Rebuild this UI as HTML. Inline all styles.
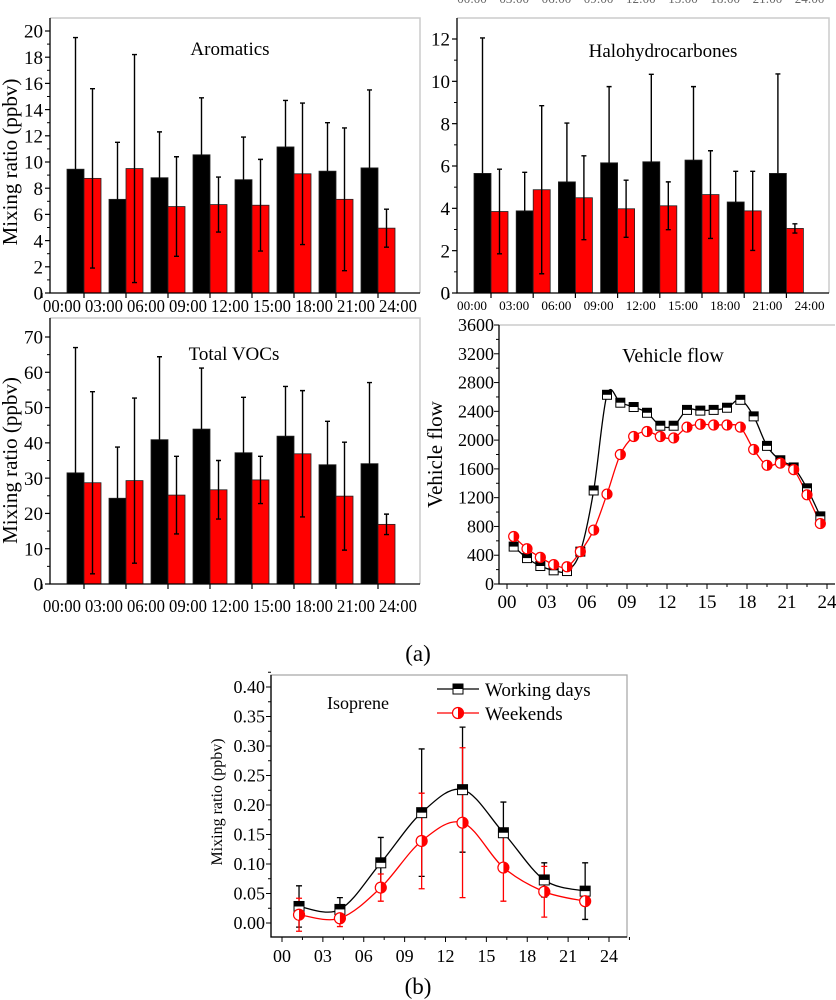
<!DOCTYPE html>
<html><head><meta charset="utf-8">
<style>
html,body{margin:0;padding:0;background:#fff;}
svg{display:block;font-family:"Liberation Serif",serif;}
</style></head>
<body>
<svg id="fig" width="836" height="1000" viewBox="0 0 836 1000" xmlns="http://www.w3.org/2000/svg"></svg>
<script>
// ---------- data ----------
const barCats = ["00:00","03:00","06:00","09:00","12:00","15:00","18:00","21:00","24:00"];
const aroWork = [9.45,7.15,8.8,10.55,8.65,11.15,9.3,9.55];
const aroWorkErr = [10.05,4.35,3.5,4.35,3.25,3.55,3.7,5.95];
const aroWeek = [8.75,9.5,6.6,6.75,6.7,9.1,7.15,4.95];
const aroWeekErr = [6.85,8.7,3.8,2.1,3.5,5.4,5.45,1.45];
const haloWork = [5.65,3.88,5.25,6.15,6.2,6.28,4.3,5.65];
const haloWorkErr = [6.4,1.82,2.78,3.6,4.13,3.47,1.45,4.7];
const haloWeek = [3.85,4.88,4.5,3.98,4.12,4.65,3.88,3.05];
const haloWeekErr = [2.0,3.97,1.98,1.35,1.13,2.07,1.87,0.22];
const vocWork = [31.5,24.3,40.9,43.9,37.2,41.9,33.8,34.1];
const vocWorkErr = [35.5,14.5,23.5,17.3,15.7,14.1,12.3,23.0];
const vocWeek = [28.7,29.3,25.2,26.7,29.5,36.9,24.9,16.9];
const vocWeekErr = [25.8,23.4,11,8.3,6.7,17.9,15.3,2.9];
const vehHours = [0.5,1.5,2.5,3.5,4.5,5.5,6.5,7.5,8.5,9.5,10.5,11.5,12.5,13.5,14.5,15.5,16.5,17.5,18.5,19.5,20.5,21.5,22.5,23.5];
const vehWork = [520,360,250,190,180,450,1300,2630,2520,2460,2380,2200,2200,2420,2410,2420,2450,2560,2330,1920,1720,1620,1330,940];
const vehWeek = [660,490,370,270,240,450,750,1250,1800,2050,2120,2050,2030,2180,2220,2210,2210,2180,1870,1650,1680,1590,1240,840];
const isoHours = [1.25,4.25,7.25,10.25,13.25,16.25,19.25,22.25];
const isoWork = [0.028,0.023,0.102,0.187,0.226,0.153,0.073,0.054];
const isoWorkErr = [0.035,0.02,0.043,0.108,0.106,0.052,0.029,0.048];
const isoWeek = [0.014,0.008,0.060,0.139,0.170,0.094,0.053,0.037];
const isoWeekErr = [0.028,0.014,0.023,0.081,0.127,0.057,0.043,0.005];
const hourTicks = ["00","03","06","09","12","15","18","21","24"];

const NS="http://www.w3.org/2000/svg";
const svg=document.getElementById('fig');
function el(tag,attrs,parent,txt){const e=document.createElementNS(NS,tag);for(const k in attrs)e.setAttribute(k,attrs[k]);if(txt!==undefined)e.textContent=txt;(parent||svg).appendChild(e);return e;}

function spline(pts){
  let d="M"+pts[0][0]+","+pts[0][1];
  for(let i=0;i<pts.length-1;i++){
    const p0=pts[i-1]||pts[i],p1=pts[i],p2=pts[i+1],p3=pts[i+2]||pts[i+1];
    const c1=[p1[0]+(p2[0]-p0[0])/6,p1[1]+(p2[1]-p0[1])/6];
    const c2=[p2[0]-(p3[0]-p1[0])/6,p2[1]-(p3[1]-p1[1])/6];
    d+=" C"+c1+" "+c2+" "+p2;
  }
  return d;
}

function barPanel(o){
  const g=el('g',{});
  
  
  const y=v=>o.y0-(v/o.ymax)*(o.y0-o.ytop);
  el('path',{d:`M${o.x0},${o.frameTop} H${o.xr} V${o.y0}`,fill:'none',stroke:'#ccc','stroke-width':1.5},g);
  const yt=el('text',{x:o.titleX,y:o.titleY,'font-size':19,'text-anchor':'middle'},g,o.title);
  
  
  for(let i=0;i<o.work.length;i++){
    const xb=o.barX+o.step*i;
    const b1=el('rect',{x:xb,y:y(o.work[i]),width:o.bw,height:o.y0-y(o.work[i]),fill:'#000',stroke:'#222','stroke-width':0.8},g);
    
    
    const b2=el('rect',{x:xb+o.bw,y:y(o.week[i]),width:o.bw,height:o.y0-y(o.week[i]),fill:'#f00',stroke:'#222','stroke-width':0.8},g);
    
    
    const cx1=xb+o.bw/2, t1=y(o.work[i]+o.workErr[i]);
    el('path',{d:`M${cx1},${y(o.work[i])} V${t1} M${cx1-2.5},${t1} H${cx1+2.5}`,stroke:'#000','stroke-width':1.4},g);
    const cx2=xb+o.bw*1.5, t2=y(o.week[i]+o.weekErr[i]), b2y=y(Math.max(0,o.week[i]-o.weekErr[i]));
    el('path',{d:`M${cx2},${b2y} V${t2} M${cx2-2.5},${t2} H${cx2+2.5} M${cx2-2.5},${b2y} H${cx2+2.5}`,stroke:'#000','stroke-width':1.4},g);
  }
  el('path',{d:`M${o.x0},${o.frameTop} V${o.y0} H${o.xr}`,fill:'none',stroke:'#000','stroke-width':1.3},g);
  for(let v=0;v<=o.ymax+1e-9;v+=o.ystep){
    el('line',{x1:o.x0-5,x2:o.x0,y1:y(v),y2:y(v),stroke:'#000','stroke-width':1.2},g);
    const t=el('text',{x:o.x0-7,y:y(v)+o.fs*0.35,'font-size':o.fs,'text-anchor':'end'},g,String(v));
    
    
    if(v+o.ystep/2<=o.ymax) el('line',{x1:o.x0-3,x2:o.x0,y1:y(v+o.ystep/2),y2:y(v+o.ystep/2),stroke:'#000','stroke-width':1},g);
  }
  for(let i=0;i<barCats.length;i++){
    const tx=o.barX+o.bw+o.step*(i-1);
    el('line',{x1:tx,x2:tx,y1:o.y0,y2:o.y0+5,stroke:'#000','stroke-width':1.2},g);
    const lx=o.labX+o.step*i;
    const t=el('text',{x:lx-o.tl/2,y:o.labY,'font-size':o.xfs,textLength:o.tl,lengthAdjust:'spacingAndGlyphs'},g,barCats[i]);
    
    
  }
  if(o.ytitle){
    const t=el('text',{transform:`translate(${o.ytx},${(o.ytop+o.y0)/2}) rotate(-90)`,'font-size':21,'text-anchor':'middle'},g,o.ytitle);
    
    
  }
}

for(let i=0;i<barCats.length;i++){
  const t=el('text',{x:472+42.2*i,y:3,'font-size':13,'text-anchor':'middle',fill:'#666'},svg,barCats[i]);
  
  
}

barPanel({name:'aromatics-chart',title:'Aromatics',titleX:230,titleY:55,x0:50,xr:420,frameTop:18,ytop:31,y0:293,ymax:20,ystep:2,
  work:aroWork,workErr:aroWorkErr,week:aroWeek,weekErr:aroWeekErr,barX:67,bw:17,step:42,labX:62,labY:312,fs:19,xfs:18,tl:38,ytitle:'Mixing ratio (ppbv)',ytx:17});
barPanel({name:'halohydrocarbones-chart',title:'Halohydrocarbones',titleX:663,titleY:57,x0:457,xr:829,frameTop:18,ytop:39,y0:293,ymax:12,ystep:2,
  work:haloWork,workErr:haloWorkErr,week:haloWeek,weekErr:haloWeekErr,barX:474,bw:17,step:42.2,labX:472,labY:310,fs:19,xfs:13,tl:30,});
barPanel({name:'total-vocs-chart',title:'Total VOCs',titleX:234,titleY:360,x0:50,xr:420,frameTop:318,ytop:337,y0:584,ymax:70,ystep:10,
  work:vocWork,workErr:vocWorkErr,week:vocWeek,weekErr:vocWeekErr,barX:67,bw:17,step:42,labX:62,labY:612,fs:19,xfs:18,tl:38,ytitle:'Mixing ratio (ppbv)',ytx:17});

function squareMarker(g,x,y,s){
  el('rect',{x:x-s,y:y-s,width:2*s,height:2*s,fill:'#fff',stroke:'#000','stroke-width':1},g);
  el('rect',{x:x-s,y:y-s,width:2*s,height:s,fill:'#000'},g);
}
function circleMarker(g,x,y,r){
  el('circle',{cx:x,cy:y,r:r,fill:'#fff',stroke:'#f00','stroke-width':1.2},g);
  el('path',{d:`M${x},${y-r} A${r},${r} 0 0 1 ${x},${y+r} Z`,fill:'#f00'},g);
}

(function(){
  const g=el('g',{});
  
  
  const x0=499,xr=835,y0=584,ytop=325,ymax=3600;
  const X=h=>507+h*(320/24), Y=v=>y0-(v/ymax)*(y0-ytop);
  el('path',{d:`M${x0},${ytop} H${xr}`,stroke:'#ccc','stroke-width':1.5},g);
  el('path',{d:`M${x0},${ytop} V${y0} H${xr}`,fill:'none',stroke:'#000','stroke-width':1.3},g);
  for(let v=0;v<=ymax;v+=400){
    el('line',{x1:x0-5,x2:x0,y1:Y(v),y2:Y(v),stroke:'#000'},g);
    if(v<ymax) el('line',{x1:x0-3,x2:x0,y1:Y(v+200),y2:Y(v+200),stroke:'#000'},g);
    const t=el('text',{x:x0-5,y:Y(v)+6,'font-size':18,'text-anchor':'end'},g,String(v));
    
    
  }
  for(let i=0;i<hourTicks.length;i++){
    const h=i*3;
    el('line',{x1:X(h),x2:X(h),y1:y0,y2:y0+5,stroke:'#000'},g);
    el('line',{x1:X(h+1.5),x2:X(h+1.5),y1:y0,y2:y0+3,stroke:'#000'},g);
    const t=el('text',{x:X(h),y:y0+24,'font-size':19,'text-anchor':'middle'},g,hourTicks[i]);
    
    
  }
  const yt=el('text',{transform:`translate(442,${(ytop+y0)/2}) rotate(-90)`,'font-size':21,'text-anchor':'middle'},g,'Vehicle flow');
  
  
  const tt=el('text',{x:673,y:362,'font-size':20,'text-anchor':'middle'},g,'Vehicle flow');
  
  
  const pw=vehHours.map((h,i)=>[X(h),Y(vehWork[i])]);
  const pr=vehHours.map((h,i)=>[X(h),Y(vehWeek[i])]);
  const lw=el('path',{d:spline(pw),fill:'none',stroke:'#000','stroke-width':1.3},g);
  
  
  const lr=el('path',{d:spline(pr),fill:'none',stroke:'#f00','stroke-width':1.3},g);
  
  
  pw.forEach(p=>{squareMarker(g,p[0],p[1],4.5);});
  pr.forEach(p=>{circleMarker(g,p[0],p[1],5);});
})();

const ca=el('text',{x:418,y:661,'font-size':23,'text-anchor':'middle'},svg,'(a)');


const cb=el('text',{x:418,y:994,'font-size':23,'text-anchor':'middle'},svg,'(b)');



(function(){
  const g=el('g',{});
  
  
  const x0=271,xr=627,y0=937,ytop=675;
  const X=h=>282+h*(327/24), Y=v=>923-(v/0.40)*(923-687);
  el('rect',{x:x0,y:ytop,width:xr-x0,height:y0-ytop,fill:'none',stroke:'#aaa','stroke-width':1.3},g);
  el('path',{d:`M${x0},${ytop} V${y0} H${xr}`,fill:'none',stroke:'#000','stroke-width':1.3},g);
  for(let k=0;k<=8;k++){
    const v=k*0.05;
    el('line',{x1:x0-5,x2:x0,y1:Y(v),y2:Y(v),stroke:'#000'},g);
    el('line',{x1:x0-3,x2:x0,y1:Y(v+0.025),y2:Y(v+0.025),stroke:'#000'},g);
    const t=el('text',{x:x0-6,y:Y(v)+6,'font-size':18,'text-anchor':'end'},g,v.toFixed(2));
    
    
  }
  for(let i=0;i<hourTicks.length;i++){
    const h=i*3;
    el('line',{x1:X(h),x2:X(h),y1:y0,y2:y0+5,stroke:'#000'},g);
    el('line',{x1:X(h+1.5),x2:X(h+1.5),y1:y0,y2:y0+3,stroke:'#000'},g);
    const t=el('text',{x:X(h),y:y0+25,'font-size':18,'text-anchor':'middle'},g,hourTicks[i]);
    
    
  }
  const yt=el('text',{transform:`translate(222,${(ytop+y0)/2-4}) rotate(-90)`,'font-size':16,'text-anchor':'middle'},g,'Mixing ratio (ppbv)');
  
  
  const tt=el('text',{x:358,y:709,'font-size':18,'text-anchor':'middle'},g,'Isoprene');
  
  
  const pw=isoHours.map((h,i)=>[X(h),Y(isoWork[i])]);
  const pr=isoHours.map((h,i)=>[X(h),Y(isoWeek[i])]);
  const lw=el('path',{d:spline(pw),fill:'none',stroke:'#000','stroke-width':1.3},g);
  
  
  const lr=el('path',{d:spline(pr),fill:'none',stroke:'#f00','stroke-width':1.3},g);
  
  
  isoHours.forEach((h,i)=>{
    const x=X(h),t=Y(isoWork[i]+isoWorkErr[i]),b=Y(isoWork[i]-isoWorkErr[i]);
    el('path',{d:`M${x},${t} V${b} M${x-3},${t} H${x+3} M${x-3},${b} H${x+3}`,stroke:'#000','stroke-width':1.3},g);
  });
  isoHours.forEach((h,i)=>{
    const x=X(h),t=Y(isoWeek[i]+isoWeekErr[i]),b=Y(isoWeek[i]-isoWeekErr[i]);
    el('path',{d:`M${x},${t} V${b} M${x-3},${t} H${x+3} M${x-3},${b} H${x+3}`,stroke:'#f00','stroke-width':1.3},g);
  });
  pw.forEach(p=>squareMarker(g,p[0],p[1],5));
  pr.forEach(p=>circleMarker(g,p[0],p[1],5.5));
  const l1=el('g',{},g);
  
  
  el('line',{x1:437,x2:479,y1:689,y2:689,stroke:'#000','stroke-width':1.3},l1);
  squareMarker(l1,458,689,5);
  el('text',{x:485,y:696,'font-size':19},l1,'Working days');
  const l2=el('g',{},g);
  
  
  el('line',{x1:437,x2:479,y1:713,y2:713,stroke:'#f00','stroke-width':1.3},l2);
  circleMarker(l2,458,713,5.5);
  el('text',{x:485,y:720,'font-size':19},l2,'Weekends');
})();
</script>
</body></html>
